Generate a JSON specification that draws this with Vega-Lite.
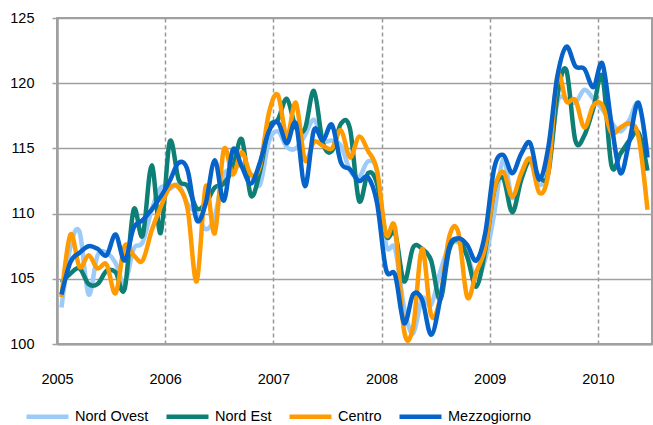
{
  "$schema": "https://vega.github.io/schema/vega-lite/v6.json",
  "width": 595,
  "height": 326,
  "autosize": {"type": "none"},
  "padding": {"left": 57, "top": 18, "right": 1, "bottom": 81},
  "background": "white",
  "config": {
    "view": {"stroke": "#a0a0a0", "strokeWidth": 2},
    "font": "Liberation Sans"
  },
  "data": {
    "values": [
      {"t": 0.5, "no": 102.8, "ne": 104.7, "ce": 103.6, "me": 103.8},
      {"t": 1.5, "no": 107.5, "ne": 105.4, "ce": 108.4, "me": 106.3},
      {"t": 2.5, "no": 108.6, "ne": 105.8, "ce": 105.9, "me": 107.0},
      {"t": 3.5, "no": 103.8, "ne": 104.6, "ce": 106.8, "me": 107.5},
      {"t": 4.5, "no": 106.8, "ne": 104.6, "ce": 105.8, "me": 107.3},
      {"t": 5.5, "no": 107.0, "ne": 105.6, "ce": 106.1, "me": 106.8},
      {"t": 6.5, "no": 106.2, "ne": 105.5, "ce": 103.9, "me": 108.4},
      {"t": 7.5, "no": 104.6, "ne": 104.2, "ce": 107.5, "me": 106.4},
      {"t": 8.5, "no": 107.3, "ne": 110.3, "ce": 106.8, "me": 108.9},
      {"t": 9.5, "no": 107.8, "ne": 108.3, "ce": 106.4, "me": 109.5},
      {"t": 10.5, "no": 110.3, "ne": 113.7, "ce": 108.7, "me": 110.3},
      {"t": 11.5, "no": 112.0, "ne": 108.5, "ce": 110.5, "me": 111.3},
      {"t": 12.5, "no": 111.9, "ne": 115.5, "ce": 112.0, "me": 112.5},
      {"t": 13.5, "no": 112.2, "ne": 112.6, "ce": 112.0, "me": 113.9},
      {"t": 14.5, "no": 110.7, "ne": 112.1, "ce": 110.3, "me": 113.3},
      {"t": 15.5, "no": 110.0, "ne": 110.4, "ce": 104.8, "me": 109.5},
      {"t": 16.5, "no": 108.8, "ne": 110.8, "ce": 112.1, "me": 110.8},
      {"t": 17.5, "no": 109.8, "ne": 112.0, "ce": 108.5, "me": 114.1},
      {"t": 18.5, "no": 113.0, "ne": 112.3, "ce": 114.9, "me": 111.0},
      {"t": 19.5, "no": 113.3, "ne": 113.5, "ce": 113.0, "me": 114.9},
      {"t": 20.5, "no": 113.8, "ne": 115.7, "ce": 114.7, "me": 113.6},
      {"t": 21.5, "no": 113.0, "ne": 111.4, "ce": 113.0, "me": 112.3},
      {"t": 22.5, "no": 112.2, "ne": 113.2, "ce": 113.6, "me": 113.9},
      {"t": 23.5, "no": 115.5, "ne": 116.6, "ce": 117.7, "me": 116.3},
      {"t": 24.5, "no": 116.3, "ne": 117.2, "ce": 119.1, "me": 117.0},
      {"t": 25.5, "no": 115.1, "ne": 118.8, "ce": 115.9, "me": 115.4},
      {"t": 26.5, "no": 115.0, "ne": 116.6, "ce": 118.5, "me": 116.9},
      {"t": 27.5, "no": 116.0, "ne": 116.5, "ce": 114.1, "me": 112.1},
      {"t": 28.5, "no": 117.2, "ne": 119.4, "ce": 115.5, "me": 116.4},
      {"t": 29.5, "no": 115.6, "ne": 115.4, "ce": 115.2, "me": 115.6},
      {"t": 30.5, "no": 115.6, "ne": 114.8, "ce": 115.0, "me": 116.8},
      {"t": 31.5, "no": 115.2, "ne": 116.9, "ce": 116.4, "me": 113.9},
      {"t": 32.5, "no": 113.3, "ne": 116.5, "ce": 114.3, "me": 113.4},
      {"t": 33.5, "no": 112.8, "ne": 111.0, "ce": 115.9, "me": 112.5},
      {"t": 34.5, "no": 114.0, "ne": 113.1, "ce": 114.8, "me": 112.8},
      {"t": 35.5, "no": 113.2, "ne": 112.3, "ce": 113.3, "me": 110.8},
      {"t": 36.5, "no": 107.6, "ne": 108.3, "ce": 108.4, "me": 105.7},
      {"t": 37.5, "no": 107.3, "ne": 108.5, "ce": 108.9, "me": 105.3},
      {"t": 38.5, "no": 102.8, "ne": 104.8, "ce": 101.0, "me": 101.6},
      {"t": 39.5, "no": 100.8, "ne": 107.4, "ce": 101.3, "me": 103.8},
      {"t": 40.5, "no": 103.5, "ne": 107.3, "ce": 107.3, "me": 103.4},
      {"t": 41.5, "no": 103.0, "ne": 106.4, "ce": 102.2, "me": 100.7},
      {"t": 42.5, "no": 105.5, "ne": 103.4, "ce": 103.5, "me": 103.4},
      {"t": 43.5, "no": 107.5, "ne": 107.2, "ce": 108.2, "me": 107.4},
      {"t": 44.5, "no": 107.8, "ne": 108.0, "ce": 108.6, "me": 108.1},
      {"t": 45.5, "no": 106.8, "ne": 106.7, "ce": 103.6, "me": 107.6},
      {"t": 46.5, "no": 105.0, "ne": 104.4, "ce": 105.5, "me": 106.4},
      {"t": 47.5, "no": 106.5, "ne": 107.2, "ce": 107.4, "me": 108.5},
      {"t": 48.5, "no": 110.0, "ne": 111.8, "ce": 111.8, "me": 113.5},
      {"t": 49.5, "no": 114.2, "ne": 112.7, "ce": 113.2, "me": 114.5},
      {"t": 50.5, "no": 111.2, "ne": 110.1, "ce": 111.3, "me": 113.1},
      {"t": 51.5, "no": 113.0, "ne": 112.6, "ce": 113.1, "me": 114.6},
      {"t": 52.5, "no": 114.0, "ne": 114.1, "ce": 114.2, "me": 115.4},
      {"t": 53.5, "no": 112.2, "ne": 112.8, "ce": 111.6, "me": 112.6},
      {"t": 54.5, "no": 113.5, "ne": 113.1, "ce": 113.1, "me": 115.1},
      {"t": 55.5, "no": 118.5, "ne": 119.0, "ce": 120.5, "me": 120.5},
      {"t": 56.5, "no": 118.8, "ne": 121.0, "ce": 118.6, "me": 122.8},
      {"t": 57.5, "no": 118.5, "ne": 115.6, "ce": 118.7, "me": 121.3},
      {"t": 58.5, "no": 119.5, "ne": 116.0, "ce": 116.6, "me": 121.1},
      {"t": 59.5, "no": 118.8, "ne": 118.1, "ce": 118.3, "me": 119.7},
      {"t": 60.5, "no": 118.0, "ne": 120.5, "ce": 118.3, "me": 121.5},
      {"t": 61.5, "no": 117.0, "ne": 113.7, "ce": 116.2, "me": 116.9},
      {"t": 62.5, "no": 116.3, "ne": 114.6, "ce": 116.6, "me": 113.1},
      {"t": 63.5, "no": 117.2, "ne": 115.6, "ce": 116.9, "me": 115.6},
      {"t": 64.5, "no": 118.4, "ne": 116.2, "ce": 115.9, "me": 118.5},
      {"t": 65.5, "no": 114.6, "ne": 113.3, "ce": 110.3, "me": 114.3}
    ]
  },
  "encoding": {
    "x": {
      "field": "t",
      "type": "quantitative",
      "scale": {"domain": [0, 66], "nice": false, "zero": false},
      "axis": {
        "title": null,
        "values": [0, 12, 24, 36, 48, 60],
        "labelExpr": "'' + (2005 + datum.value / 12)",
        "grid": true,
        "gridDash": [4, 3],
        "gridColor": "#999999",
        "gridWidth": 1.5,
        "ticks": false,
        "domainColor": "#a0a0a0",
        "domainWidth": 2,
        "labelFontSize": 14.5,
        "labelColor": "#000000",
        "labelPadding": 28,
        "labelDx": 6,
        "labelFlush": false
      }
    }
  },
  "layer": [
    {
      "mark": {"type": "line", "interpolate": "cardinal", "strokeWidth": 4.5},
      "encoding": {
        "y": {
          "field": "no",
          "type": "quantitative",
          "scale": {"domain": [100, 125], "nice": false, "zero": false},
          "axis": {
            "title": null,
            "values": [100, 105, 110, 115, 120, 125],
            "grid": true,
            "gridColor": "#a0a0a0",
            "gridWidth": 1.5,
            "domainColor": "#a0a0a0",
            "domainWidth": 2.5,
            "tickColor": "#a0a0a0",
            "tickWidth": 1.5,
            "tickSize": 5,
            "labelFontSize": 14.5,
            "labelColor": "#000000",
            "labelPadding": 18,
            "labelDy": 3
          }
        },
        "color": {
          "datum": "Nord Ovest",
          "scale": {
            "domain": ["Nord Ovest", "Nord Est", "Centro", "Mezzogiorno"],
            "range": ["#9ccbf8", "#0e7f74", "#ff9a00", "#0563c9"]
          },
          "legend": {
            "title": null,
            "orient": "none",
            "direction": "horizontal",
            "legendX": -33,
            "legendY": 375,
            "symbolType": "stroke",
            "symbolSize": 1764,
            "symbolStrokeWidth": 4.5,
            "labelFontSize": 14.5,
            "labelColor": "#000000",
            "labelOffset": 4,
            "columnPadding": 8
          }
        }
      }
    },
    {
      "mark": {"type": "line", "interpolate": "cardinal", "strokeWidth": 4.5},
      "encoding": {
        "y": {"field": "ne", "type": "quantitative"},
        "color": {"datum": "Nord Est"}
      }
    },
    {
      "mark": {"type": "line", "interpolate": "cardinal", "strokeWidth": 4.5},
      "encoding": {
        "y": {"field": "ce", "type": "quantitative"},
        "color": {"datum": "Centro"}
      }
    },
    {
      "mark": {"type": "line", "interpolate": "cardinal", "strokeWidth": 4.5},
      "encoding": {
        "y": {"field": "me", "type": "quantitative"},
        "color": {"datum": "Mezzogiorno"}
      }
    }
  ]
}
